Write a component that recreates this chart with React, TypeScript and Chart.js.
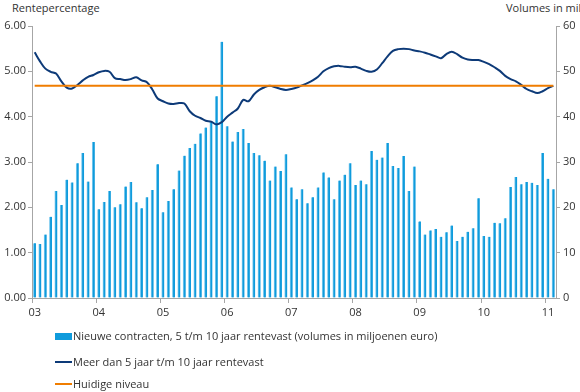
import React, { useEffect, useRef } from "react";
import { Chart, registerables } from "chart.js";

Chart.register(...registerables);

const MONTHS = ["jan", "feb", "mrt", "apr", "mei", "jun", "jul", "aug", "sep", "okt", "nov", "dec"];
const YEARS = ["03", "04", "05", "06", "07", "08", "09", "10", "11"];
const YEAR_TICK_LABELS = ["03", "04", "05", "06", "07", "08", "09", "10", "11"];

// Monthly categories Jan 2003 .. Feb 2011
const CATEGORIES: string[] = [];
YEARS.forEach((y) => MONTHS.forEach((m) => CATEGORIES.push(m + " " + y)));
CATEGORIES.length = 98;

// Nieuwe contracten, 5 t/m 10 jaar rentevast (mln euro), right axis
const VOLUMES = [
  12.1, 11.9, 14.0, 17.9, 23.6, 20.5, 26.1, 25.5, 29.7, 32.0, 25.7, 34.4,
  19.6, 21.2, 23.6, 20.0, 20.7, 24.6, 25.6, 21.1, 19.8, 22.2, 23.8, 29.5,
  18.9, 21.4, 24.0, 28.1, 31.4, 33.1, 34.0, 36.3, 37.6, 38.8, 44.5, 56.5,
  37.9, 34.5, 36.6, 37.3, 34.2, 32.0, 31.5, 30.3, 25.9, 29.0, 28.0, 31.7,
  24.4, 21.8, 24.0, 20.9, 22.2, 24.4, 27.7, 26.6, 21.8, 25.9, 27.2, 29.7,
  24.9, 25.9, 25.1, 32.4, 30.5, 31.0, 34.2, 29.1, 28.7, 31.3, 23.6, 29.0,
  16.9, 14.0, 14.9, 15.2, 13.5, 14.5, 16.0, 12.6, 13.5, 14.6, 15.4, 22.0,
  13.7, 13.5, 16.6, 16.5, 17.6, 24.5, 26.7, 25.1, 25.6, 25.4, 24.9, 32.0,
  26.3, 24.0,
];

// Meer dan 5 jaar t/m 10 jaar rentevast (%), left axis
const RATES = [
  5.42, 5.22, 5.06, 4.99, 4.95, 4.78, 4.64, 4.62, 4.70, 4.80, 4.88, 4.92,
  4.98, 5.01, 4.99, 4.85, 4.83, 4.81, 4.83, 4.87, 4.80, 4.76, 4.60, 4.40,
  4.34, 4.29, 4.28, 4.30, 4.29, 4.12, 4.02, 3.97, 3.91, 3.89, 3.83, 3.88,
  4.00, 4.09, 4.18, 4.37, 4.34, 4.49, 4.59, 4.65, 4.68, 4.65, 4.61, 4.59,
  4.61, 4.64, 4.69, 4.74, 4.80, 4.88, 5.00, 5.07, 5.11, 5.12, 5.10, 5.09,
  5.10, 5.06, 5.01, 4.99, 5.04, 5.18, 5.33, 5.45, 5.49, 5.50, 5.49, 5.46,
  5.44, 5.41, 5.37, 5.33, 5.29, 5.38, 5.43, 5.38, 5.30, 5.26, 5.25, 5.25,
  5.21, 5.16, 5.09, 5.01, 4.90, 4.83, 4.78, 4.70, 4.61, 4.56, 4.52, 4.56,
  4.63, 4.68,
];

const HUIDIGE_NIVEAU = 4.68;

const LEFT_TICKS = [0, 1, 2, 3, 4, 5, 6];
const RIGHT_TICKS = [0, 10, 20, 30, 40, 50, 60];

const FONT = "'Open Sans', 'Noto Sans', sans-serif";
const TEXT = "#333333";
const AXIS = "#a6a6a6";
const BAR = "#0f9bdc";
const BAR_EDGE = "#7ccaef";
const NAVY = "#0d3a78";
const ORANGE = "#f07d00";

export default function App() {
  const ref = useRef<HTMLCanvasElement | null>(null);

  useEffect(() => {
    if (!ref.current) return;
    const chart = new Chart(ref.current, {
      type: "bar",
      data: {
        labels: CATEGORIES,
        datasets: [
          {
            type: "line",
            label: "Huidige niveau",
            data: [
              { x: CATEGORIES[0], y: HUIDIGE_NIVEAU },
              { x: CATEGORIES[CATEGORIES.length - 1], y: HUIDIGE_NIVEAU },
            ] as any,
            borderColor: ORANGE,
            borderWidth: 2,
            pointRadius: 0,
            yAxisID: "y",
            order: 1,
          },
          {
            type: "line",
            label: "Meer dan 5 jaar t/m 10 jaar rentevast",
            data: RATES,
            borderColor: NAVY,
            borderWidth: 2,
            pointRadius: 0,
            tension: 0.35,
            yAxisID: "y",
            order: 2,
          },
          {
            type: "bar",
            label: "Nieuwe contracten, 5 t/m 10 jaar rentevast (volumes in miljoenen euro)",
            data: VOLUMES,
            backgroundColor: BAR,
            borderColor: BAR_EDGE,
            borderWidth: { left: 1, right: 0, top: 0, bottom: 0 } as any,
            borderSkipped: false,
            barThickness: 2.6,
            yAxisID: "y1",
            order: 3,
          },
        ],
      },
      options: {
        animation: false,
        responsive: false,
        maintainAspectRatio: false,
        layout: { padding: { top: 26, left: 0, right: 0, bottom: 0 } },
        plugins: { legend: { display: false }, tooltip: { enabled: false } },
        scales: {
          x: {
            type: "category",
            offset: true,
            grid: {
              offset: true,
              drawOnChartArea: false,
              drawTicks: true,
              tickLength: 5,
              color: (ctx: any) => (ctx.index % 12 === 0 ? AXIS : "rgba(0,0,0,0)"),
            },
            border: { color: AXIS, width: 1 },
            ticks: {
              autoSkip: false,
              maxRotation: 0,
              minRotation: 0,
              padding: 3,
              color: TEXT,
              font: { family: FONT, size: 11 },
              callback: (_v: any, i: number) => (i % 12 === 0 ? YEAR_TICK_LABELS[i / 12] : ""),
            },
            afterFit: (s: any) => {
              s.height = 32;
            },
          },
          y: {
            position: "left",
            min: 0,
            max: 6,
            afterBuildTicks: (s: any) => {
              s.ticks = LEFT_TICKS.map((v) => ({ value: v }));
            },
            grid: { drawOnChartArea: false, tickLength: 4, color: AXIS },
            border: { color: AXIS },
            ticks: {
              padding: 2,
              color: TEXT,
              font: { family: FONT, size: 11 },
              callback: (v: any) => Number(v).toFixed(2),
            },
            afterFit: (s: any) => {
              s.width = 32;
            },
          },
          y1: {
            position: "right",
            min: 0,
            max: 60,
            afterBuildTicks: (s: any) => {
              s.ticks = RIGHT_TICKS.map((v) => ({ value: v }));
            },
            grid: { drawOnChartArea: false, tickLength: 4, color: AXIS },
            border: { color: AXIS },
            ticks: {
              padding: 3,
              color: TEXT,
              font: { family: FONT, size: 11 },
              callback: (v: any) => String(v),
            },
            afterFit: (s: any) => {
              s.width = 24;
            },
          },
        },
      },
    });
    return () => chart.destroy();
  }, []);

  const legendText: React.CSSProperties = {
    position: "absolute",
    left: 73,
    fontFamily: FONT,
    fontSize: 11,
    color: TEXT,
    whiteSpace: "nowrap",
    lineHeight: "14px",
  };

  return (
    <div
      style={{
        position: "fixed",
        left: 0,
        top: 0,
        width: 580,
        height: 392,
        overflow: "hidden",
        background: "#ffffff",
      }}
    >
      <div style={{ ...legendText, left: 12, top: 1 }}>Rentepercentage</div>
      <div style={{ ...legendText, left: 506, top: 1 }}>Volumes in miljoenen euro</div>
      <canvas ref={ref} width={580} height={330} style={{ position: "absolute", left: 0, top: 0 }} />
      <div style={{ position: "absolute", left: 55, top: 333, width: 17, height: 7, background: BAR }} />
      <div style={{ ...legendText, top: 329 }}>
        Nieuwe contracten, 5 t/m 10 jaar rentevast (volumes in miljoenen euro)
      </div>
      <div style={{ position: "absolute", left: 55, top: 361, width: 17, height: 2, background: NAVY }} />
      <div style={{ ...legendText, top: 355 }}>Meer dan 5 jaar t/m 10 jaar rentevast</div>
      <div style={{ position: "absolute", left: 55, top: 383, width: 17, height: 2, background: ORANGE }} />
      <div style={{ ...legendText, top: 377 }}>Huidige niveau</div>
    </div>
  );
}
